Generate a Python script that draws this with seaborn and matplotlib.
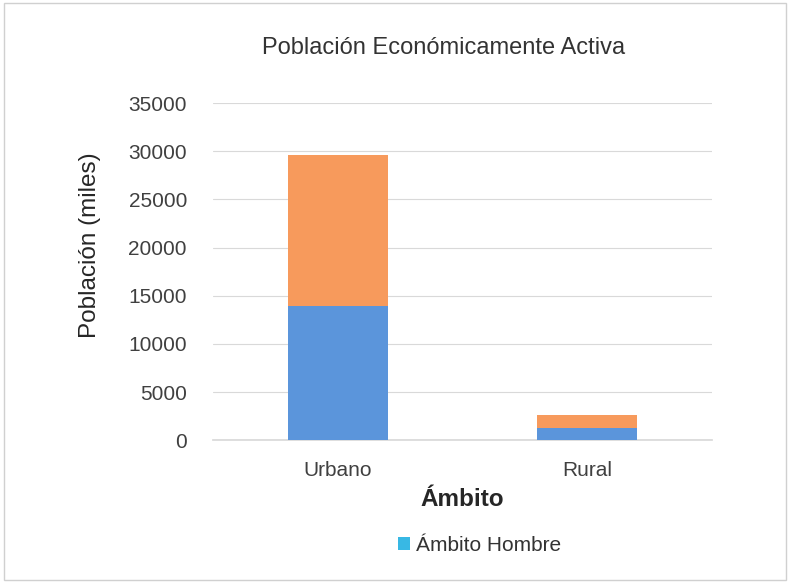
import numpy as np
import pandas as pd
import matplotlib
matplotlib.use("Agg")
import matplotlib.pyplot as plt
from matplotlib.patches import Patch
import seaborn as sns

# data (miles)
ambito = ["Urbano", "Rural"]
hombre = [13900, 1300]
mujer = [15700, 1350]

total = [h + m for h, m in zip(hombre, mujer)]
df = pd.DataFrame({"Ámbito": ambito, "Hombre": hombre, "Total": total})

sns.set_theme(style="white")
plt.rcParams["font.family"] = ["Liberation Sans", "DejaVu Sans"]

fig = plt.figure(figsize=(7.9, 5.83), dpi=100)
ax = fig.add_axes([0.27, 0.245, 0.631, 0.578])

sns.barplot(data=df, x="Ámbito", y="Total", color="#f79a5c", width=0.4,
            saturation=1, ax=ax, zorder=2, linewidth=0, edgecolor="none")
sns.barplot(data=df, x="Ámbito", y="Hombre", color="#5b95db", width=0.4,
            saturation=1, ax=ax, zorder=3, linewidth=0, edgecolor="none")

ax.set_ylim(0, 35000)
ax.set_yticks(np.arange(0, 35001, 5000))
ax.yaxis.grid(True, color="#d9d9d9", linewidth=0.8, zorder=0)
for s in ["top", "right", "left"]:
    ax.spines[s].set_visible(False)
ax.spines["bottom"].set_color("#d9d9d9")
ax.tick_params(axis="y", labelsize=15, colors="#404040", length=0, pad=19)
ax.tick_params(axis="x", labelsize=15, colors="#404040", length=0, pad=15)

fig.text(0.562, 0.918, "Población Económicamente Activa", fontsize=17,
         color="#333333", ha="center", va="center")
ax.set_ylabel("Población (miles)", fontsize=17.5, color="#262626")
ax.yaxis.set_label_coords(-0.225, 0.579)
ax.set_xlabel("Ámbito", fontsize=17.5, fontweight="bold", color="#262626", labelpad=6)

handles = [Patch(facecolor="#38b8e4", edgecolor="none")]
fig.legend(handles, ["Ámbito Hombre"], loc="center", bbox_to_anchor=(0.607, 0.065),
           frameon=False, fontsize=15, handlelength=0.6, handleheight=0.6,
           handletextpad=0.3, labelcolor="#333333")

fig.patches.append(plt.Rectangle((0.005, 0.005), 0.99, 0.99, transform=fig.transFigure,
                                 fill=False, edgecolor="#d0d0d0", linewidth=1))

fig.savefig("out.png", dpi=100)
